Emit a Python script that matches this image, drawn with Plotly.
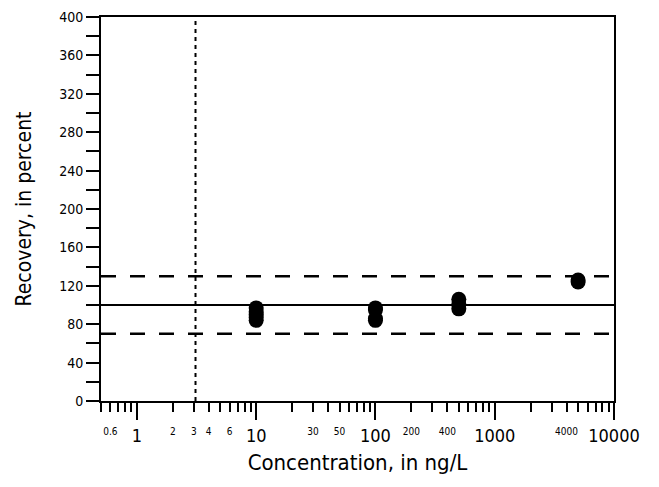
import plotly.graph_objects as go
import math

# ---- data ----
conc_10 = [10, 10, 10, 10, 10]
rec_10 = [97, 93, 90, 87, 84]
conc_100 = [100, 100, 100, 100]
rec_100 = [97, 95, 86, 84]
conc_500 = [500, 500, 500]
rec_500 = [106, 101, 96]
conc_5000 = [5000, 5000]
rec_5000 = [126, 124]

target_recovery = 100
upper_limit = 130
lower_limit = 70
reporting_level = 3.1

major_x_vals = [1, 10, 100, 1000, 10000]
major_x_text = ["1", "10", "100", "1000", "10000"]
small_x_vals = [0.6, 2, 3, 4, 6, 30, 50, 200, 400, 4000]
small_x_text = ["0.6", "2", "3", "4", "6", "30", "50", "200", "400", "4000"]
minor_x_vals = [0.5, 0.6, 0.7, 0.8, 0.9] + [m * 10 ** d for d in range(0, 4) for m in range(2, 10)]
y_tick_vals = list(range(0, 401, 40))
y_tick_text = [str(v) for v in y_tick_vals]

x_range = [0.5, 10000]
y_range = [0, 400]

FONT = "DejaVu Sans, sans-serif"


def cond(s):
    return '<span style="font-stretch:condensed">' + s + '</span>'


def f(size):
    return dict(family=FONT, size=size, color="black")


fig = go.Figure()

xs = conc_10 + conc_100 + conc_500 + conc_5000
ys = rec_10 + rec_100 + rec_500 + rec_5000
fig.add_trace(go.Scatter(x=xs, y=ys, mode="markers",
                         marker=dict(color="black", size=15, line=dict(width=0)),
                         showlegend=False, cliponaxis=False))

# invisible trace to keep the secondary x axis alive
fig.add_trace(go.Scatter(x=[x_range[0]], y=[0], xaxis="x2", yaxis="y", mode="markers",
                         marker=dict(opacity=0), showlegend=False, hoverinfo="skip"))

# reference lines
fig.add_shape(type="line", xref="paper", x0=0, x1=1, yref="y", y0=target_recovery, y1=target_recovery,
              line=dict(color="black", width=2))
for lim in (upper_limit, lower_limit):
    fig.add_shape(type="line", xref="paper", x0=0, x1=1, yref="y", y0=lim, y1=lim,
                  line=dict(color="black", width=2.5, dash="15px,14px"))
fig.add_shape(type="line", xref="x", x0=reporting_level, x1=reporting_level, yref="paper", y0=0, y1=1,
              line=dict(color="black", width=2, dash="4px,4px"))

lr = [math.log10(x_range[0]), math.log10(x_range[1])]

fig.update_layout(
    width=659, height=487,
    margin=dict(l=93, r=53, t=9, b=94, autoexpand=False),
    paper_bgcolor="white", plot_bgcolor="white",
    font=f(14),
    showlegend=False,
    xaxis=dict(
        type="log", range=lr,
        showline=True, linecolor="black", linewidth=2, mirror=True,
        showgrid=False, zeroline=False,
        tickmode="array", tickvals=major_x_vals, ticktext=[cond(t) for t in major_x_text],
        ticks="outside", ticklen=17, tickwidth=2, tickcolor="black",
        tickfont=f(18),
        minor=dict(tickvals=minor_x_vals, ticks="outside", ticklen=9, tickwidth=2, tickcolor="black", showgrid=False),
        title=dict(text=cond("Concentration, in ng/L"), font=f(22), standoff=10),
    ),
    xaxis2=dict(
        type="log", range=lr, overlaying="x", anchor="y", side="bottom",
        showline=False, showgrid=False, zeroline=False,
        tickmode="array", tickvals=small_x_vals, ticktext=[cond(t) for t in small_x_text],
        ticks="outside", ticklen=21, tickcolor="rgba(0,0,0,0)",
        tickfont=f(10),
    ),
    yaxis=dict(
        range=y_range,
        showline=True, linecolor="black", linewidth=2, mirror=True,
        showgrid=False, zeroline=False,
        tickmode="array", tickvals=y_tick_vals, ticktext=[cond(t) for t in y_tick_text],
        ticks="outside", ticklen=13, tickwidth=2, tickcolor="black",
        tickfont=f(14),
        minor=dict(dtick=20, ticks="outside", ticklen=13, tickwidth=2, tickcolor="black", showgrid=False),
        title=dict(text=cond("Recovery, in percent"), font=f(21), standoff=22),
    ),
)

fig.write_html("out.html")
